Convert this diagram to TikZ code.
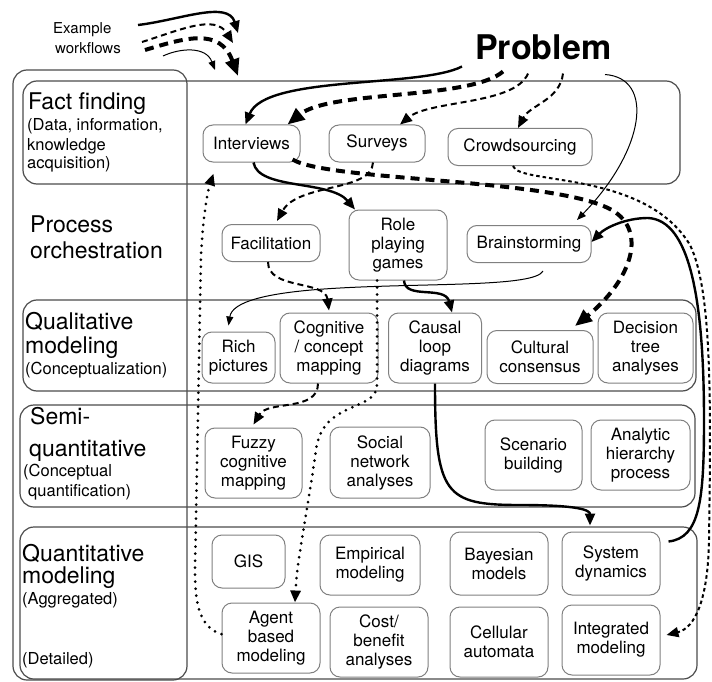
\documentclass[tikz,border=0pt]{standalone}
\usepackage{fontspec}
\setmainfont{TeX Gyre Heros}
\usetikzlibrary{arrows.meta}

\tikzset{
  box/.style 2 args={draw=black!50, line width=1pt, rounded corners=10pt, align=center,
    inner sep=0pt, minimum width=#1, minimum height=#2, font=\fontsize{17}{19}\selectfont},
  band/.style={draw=black!70, line width=1.2pt, rounded corners=14pt},
  rowhead/.style={anchor=base west, inner sep=0pt, font=\fontsize{23}{26}\selectfont},
  rowsub/.style={anchor=base west, inner sep=0pt, font=\fontsize{16.5}{19}\selectfont},
  wsolid/.style={line width=2.4pt, -{Triangle[length=12pt,width=10pt]}},
  wdash/.style={line width=2pt, dash pattern=on 6pt off 4pt, -{Triangle[length=12pt,width=10pt]}},
  wthick/.style={line width=4pt, dash pattern=on 9pt off 6pt, -{Triangle[length=17pt,width=14pt]}},
  wthin/.style={line width=1pt, -{Triangle[length=9pt,width=7pt]}},
  wdot/.style={line width=3pt, line cap=round, dash pattern=on 0pt off 7pt, -{Triangle[length=12pt,width=10pt]}},
  wfine/.style={line width=2pt, dash pattern=on 3.5pt off 3pt, -{Triangle[length=12pt,width=10pt]}},
}

\begin{document}
\begin{tikzpicture}[x=1pt,y=-1pt]
\useasboundingbox (0,0) rectangle (712,682);

% bands
\draw[band] (13,70) rectangle (187,680);
\draw[band] (23,81) rectangle (680,184);
\draw[band] (23,300) rectangle (696,391);
\draw[band] (20,405) rectangle (695,507);
\draw[band] (20,527) rectangle (697,679);

% row headings
\node[rowhead] (ffh) at (28,110) {Fact finding};
\node[rowsub] (ffs1) at (27,131) {(Data, information,};
\node[rowsub] (ffs2) at (27,150) {knowledge};
\node[rowsub] (ffs3) at (27,168) {acquisition)};
\node[rowhead] (poh1) at (30,232) {Process};
\node[rowhead] (poh2) at (30,258) {orchestration};
\node[rowhead] (qmh1) at (25,329) {Qualitative};
\node[rowhead] (qmh2) at (25,353) {modeling};
\node[rowsub] (qms) at (25,374) {(Conceptualization)};
\node[rowhead] (sqh1) at (30,424) {Semi-};
\node[rowhead] (sqh2) at (29,456) {quantitative};
\node[rowsub] (sqs1) at (23,476) {(Conceptual};
\node[rowsub] (sqs2) at (28,496) {quantification)};
\node[rowhead] (qth1) at (22,561) {Quantitative};
\node[rowhead] (qth2) at (22,583) {modeling};
\node[rowsub] (qts1) at (22,604) {(Aggregated)};
\node[rowsub] (qts2) at (22,664) {(Detailed)};

% methods
\foreach \nm/\cx/\cy/\bw/\bh/\txt in {
  iv/251.5/143.5/97/37/{Interviews},
  sv/377/143.5/96/37/{Surveys},
  cs/520/147/144/37/{Crowdsourcing},
  fa/271/243/98/37/{Facilitation},
  rp/398/245/98/70/{Role\\playing\\games},
  bs/529/244/124/37/{Brainstorming},
  rich/238.5/357.5/73/51/{Rich\\pictures},
  cog/329/348/98/70/{Cognitive\\/ concept\\mapping},
  cld/435/348/93/70/{Causal\\loop\\diagrams},
  cc/540/357/106/53/{Cultural\\consensus},
  dt/645.5/348/95/70/{Decision\\tree\\analyses},
  fcm/253.5/463/97/70/{Fuzzy\\cognitive\\mapping},
  sna/380/462.5/100/71/{Social\\network\\analyses},
  sb/533.5/455/97/70/{Scenario\\building},
  ahp/640.5/455/99/70/{Analytic\\hierarchy\\process},
  gis/248.5/561.5/73/53/{GIS},
  em/370/565/100/60/{Empirical\\modeling},
  bm/499/563.5/98/63/{Bayesian\\models},
  sd/611/563.5/98/63/{System\\dynamics},
  abm/271/638/98/70/{Agent\\based\\modeling},
  cb/379/642/98/70/{Cost/\\benefit\\analyses},
  ca/499/642/98/70/{Cellular\\automata},
  im/611/640/98/70/{Integrated\\modeling}}{
\node[box={\bw pt}{\bh pt}] (\nm) at (\cx,\cy) {\txt};
}

\node[anchor=base west, inner sep=0pt, font=\fontsize{34}{34}\selectfont\bfseries] (pb) at (475,60) {Problem};

% legend
\node[anchor=base west, inner sep=0pt, font=\fontsize{15}{19}\selectfont] (lga) at (53,34) {Example};
\node[anchor=base west, inner sep=0pt, font=\fontsize{15}{19}\selectfont] (lgb) at (55,54) {workflows};
\coordinate (ls1) at (138,25);  \coordinate (le1) at (238,33);
\coordinate (ls2) at (142,42);  \coordinate (le2) at (233,43);
\coordinate (ls3) at (145,50);  \coordinate (le3) at (238,76);
\coordinate (ls4) at (163,56);  \coordinate (le4) at (215,70);
\draw[wsolid] (ls1) .. controls (180,20) and (228,0) .. (le1);
\draw[wdash] (ls2) .. controls (180,30) and (215,14) .. (le2);
\draw[wthick] (ls3) .. controls (185,38) and (220,27) .. (le3);
\draw[wthin] (ls4) .. controls (180,48) and (206,46) .. (le4);

% thick solid
\draw[wsolid] ([shift={(-13,6)}]pb.south west) .. controls (420,88) and (265,75) .. ([xshift=-6pt]iv.north);
\draw[wsolid] ([xshift=2pt]iv.south) .. controls (258,190) and (330,180) .. ([xshift=-43pt]rp.north);
\draw[wsolid] ([xshift=6pt]rp.south) .. controls (405,300) and (445,285) .. ([xshift=17pt]cld.north);
\draw[wsolid] (cld.south) .. controls (435,495) and (445,505) .. (520,505) .. controls (578,505) and (590,510) .. ([xshift=-21pt,yshift=6pt]sd.north);
\draw[wsolid] ([shift={(8,-22)}]sd.east) .. controls (700,538) and (704,500) .. (704,420) .. controls (704,300) and (690,220) .. (648,218) .. controls (625,218) and (605,228) .. ([yshift=2pt]bs.east);

% thin solid
\draw[wthin] ([shift={(130,14)}]pb.south west) .. controls (655,78) and (645,150) .. ([xshift=48pt,yshift=5pt]bs.north);
\draw[wthin] ([shift={(14,8)}]bs.south) .. controls (535,287) and (430,283) .. (340,288) .. controls (265,292) and (232,302) .. ([xshift=-10pt,yshift=6pt]rich.north);

% dashed
\draw[wdash] ([shift={(53,13)}]pb.south west) .. controls (515,105) and (430,100) .. ([xshift=23pt]sv.north);
\draw[wdash] ([xshift=-4pt]sv.south) .. controls (372,192) and (298,183) .. ([xshift=6pt,yshift=3pt]fa.north);
\draw[wdash] ([xshift=-3pt]fa.south) .. controls (268,290) and (325,280) .. ([yshift=2pt]cog.north);
\draw[wdash] ([xshift=-11pt]cog.south) .. controls (318,412) and (268,400) .. ([yshift=3pt]fcm.north);
\draw[wdash] ([shift={(88,13)}]pb.south west) .. controls (560,100) and (530,105) .. ([xshift=-2pt]cs.north);
\draw[wfine] ([xshift=-7pt]cs.south) .. controls (518,185) and (645,170) .. (690,245) .. controls (712,290) and (711,400) .. (709,540) .. controls (708,600) and (695,628) .. ([shift={(6,-5)}]im.east);

% thick dashed
\draw[wthick] ([shift={(28,11)}]pb.south west) .. controls (470,100) and (330,90) .. ([xshift=36pt]iv.north);
\draw[wthick] ([shift={(-8,-3)}]iv.south east) .. controls (330,182) and (565,178) .. (615,212) .. controls (648,235) and (628,283) .. ([xshift=35pt,yshift=4pt]cc.north);

% dotted
\draw[wdot] ([xshift=-21pt]rp.south) -- (377,385) .. controls (377,412) and (322,400) .. (316,450) .. controls (306,520) and (297,560) .. ([xshift=24pt]abm.north);
\draw[wdot] ([yshift=4pt]abm.west) .. controls (200,628) and (195,605) .. (195,570) -- (201,255) .. controls (203,215) and (208,190) .. ([shift={(-38,11)}]iv.south);
\end{tikzpicture}
\end{document}
